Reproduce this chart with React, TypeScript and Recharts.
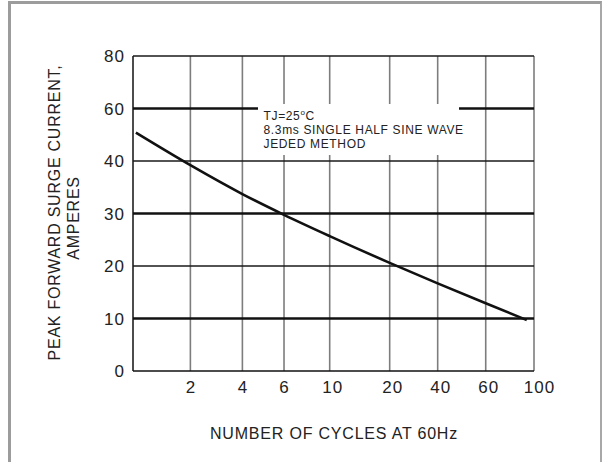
import React from 'react';
import { ComposedChart, Line, XAxis, YAxis, ReferenceLine, Customized } from 'recharts';

// ---- data ----
const cycleTicks = [1, 2, 4, 6, 10, 20, 40, 60, 100];
const cycleTickLabels = ['', '2', '4', '6', '10', '20', '40', '60', '100'];
const currentTicks = [0, 10, 20, 30, 40, 60, 80];
const currentTickLabels = ['0', '10', '20', '30', '40', '60', '80'];
const cycles = [1.05, 2, 4, 6, 10, 20, 40, 60, 94];
const surgeCurrent = [50.8, 39.2, 33.7, 29.75, 25.7, 20.6, 16.7, 12.9, 9.7];
const noteLines = ['TJ=25', '8.3ms SINGLE HALF SINE WAVE', 'JEDED METHOD'];

// ---- axis layout (printed, non-uniform graph paper) ----
const cycleAxisFractions = [0, 0.1431, 0.2728, 0.3766, 0.4905, 0.6401, 0.7598, 0.8796, 1];
const currentAxisSteps = [0, 1, 2, 3, 4, 5, 6];

const interp = (v: number, from: number[], to: number[]) => {
  for (let i = 0; i < from.length - 1; i++) {
    if (v >= from[i] && v <= from[i + 1]) {
      const f = (v - from[i]) / (from[i + 1] - from[i]);
      return to[i] + f * (to[i + 1] - to[i]);
    }
  }
  return v < from[0] ? to[0] : to[to.length - 1];
};
const toX = (c: number) => interp(c, cycleTicks, cycleAxisFractions);
const toY = (a: number) => interp(a, currentTicks, currentAxisSteps);

const data = cycles.map((c, i) => ({ x: toX(c), y: toY(surgeCurrent[i]) }));

const FONT = '"Liberation Sans", Arial, Helvetica, sans-serif';
const TXT = '#222';

const idxOf = (arr: number[], v: number) => {
  let best = 0;
  arr.forEach((a, i) => { if (Math.abs(a - v) < Math.abs(arr[best] - v)) best = i; });
  return best;
};

const XTick = (props: any) => {
  const { x, y, payload } = props;
  const label = cycleTickLabels[idxOf(cycleAxisFractions, payload.value)];
  if (!label) return null;
  const dx = (label.length - 1) * 2.5 + 0.5;
  return (
    <text x={x + dx} y={y} dy={14} textAnchor="middle" fontSize={17} letterSpacing={1} fill={TXT} fontFamily={FONT}>
      {label}
    </text>
  );
};

const YTick = (props: any) => {
  const { x, y, payload } = props;
  const label = currentTickLabels[idxOf(currentAxisSteps, payload.value)];
  return (
    <text x={x} y={y} dy={6} textAnchor="end" fontSize={17} letterSpacing={1} fill={TXT} fontFamily={FONT}>
      {label}
    </text>
  );
};

const Titles = () => (
  <g fontFamily={FONT} fill={TXT}>
    <text x={334} y={439} textAnchor="middle" fontSize={16} letterSpacing={0.8}>NUMBER OF CYCLES AT 60Hz</text>
    <text x={60} y={212.5} transform="rotate(-90, 60, 212.5)" textAnchor="middle" fontSize={16} letterSpacing={0.75}>PEAK FORWARD SURGE CURRENT,</text>
    <text x={79} y={218} transform="rotate(-90, 79, 218)" textAnchor="middle" fontSize={16} letterSpacing={0.75}>AMPERES</text>
    <text x={263.5} y={119.5} fontSize={12} letterSpacing={0.65}>
      {noteLines[0]}
      <tspan fontSize={8} dy={-5}>o</tspan>
      <tspan dy={5}>C</tspan>
    </text>
    <text x={263.5} y={133.5} fontSize={12} letterSpacing={0.65}>{noteLines[1]}</text>
    <text x={263.5} y={148} fontSize={12} letterSpacing={0.65}>{noteLines[2]}</text>
  </g>
);

// gap in the graph paper behind the note
const gapX = [0.3117, 0.813];
const gapY = [4.114, 5.086];

const thickY = [10, 30];
const thinY = [20, 40, 80];
const GRAY = '#7d7d7d';

export default function App() {
  return (
    <div style={{ position: 'absolute', left: 0, top: 0, width: 605, height: 462, background: '#fff', overflow: 'hidden' }}>
      <div style={{ position: 'absolute', left: 8, top: 1, width: 589, height: 470, borderLeft: '3px solid #9c9c9c', borderTop: '3px solid #9c9c9c', borderRight: '2px solid #a8a8a8' }} />
      <div style={{ position: 'absolute', left: 0, top: 0 }}>
        <ComposedChart width={605} height={462} data={data} margin={{ top: 56, right: 71, bottom: 0, left: 0 }}>
          <XAxis dataKey="x" type="number" domain={[0, 1]} ticks={cycleAxisFractions} interval={0} axisLine={false} tickLine={false} height={91} tick={<XTick />} />
          <YAxis type="number" domain={[0, 6]} ticks={currentAxisSteps} interval={0} axisLine={false} tickLine={false} width={133} tick={<YTick />} />
          {cycleTicks.slice(1).map((c) => {
            const xv = toX(c);
            const interrupted = xv > gapX[0] && xv < gapX[1];
            if (interrupted) {
              return (
                <React.Fragment key={'v' + c}>
                  <ReferenceLine segment={[{ x: xv, y: 6 }, { x: xv, y: gapY[1] }]} stroke={GRAY} strokeWidth={1.6} />
                  <ReferenceLine segment={[{ x: xv, y: gapY[0] }, { x: xv, y: 0 }]} stroke={GRAY} strokeWidth={1.6} />
                </React.Fragment>
              );
            }
            return <ReferenceLine key={'v' + c} x={xv} stroke={GRAY} strokeWidth={1.6} />;
          })}
          <ReferenceLine x={0} stroke="#111" strokeWidth={1.5} />
          {thinY.map((v) => (
            <ReferenceLine key={'h' + v} y={toY(v)} stroke="#1a1a1a" strokeWidth={1.3} />
          ))}
          {thickY.map((v) => (
            <ReferenceLine key={'H' + v} y={toY(v)} stroke="#111" strokeWidth={2.3} />
          ))}
          <ReferenceLine segment={[{ x: 0, y: toY(60) }, { x: gapX[0], y: toY(60) }]} stroke="#111" strokeWidth={2.3} />
          <ReferenceLine segment={[{ x: gapX[1], y: toY(60) }, { x: 1, y: toY(60) }]} stroke="#111" strokeWidth={2.3} />
          <ReferenceLine y={0} stroke="#111" strokeWidth={1.5} />
          <Line dataKey="y" type="monotone" stroke="#111" strokeWidth={2.6} dot={false} isAnimationActive={false} />
          <Customized component={Titles} />
        </ComposedChart>
      </div>
    </div>
  );
}
